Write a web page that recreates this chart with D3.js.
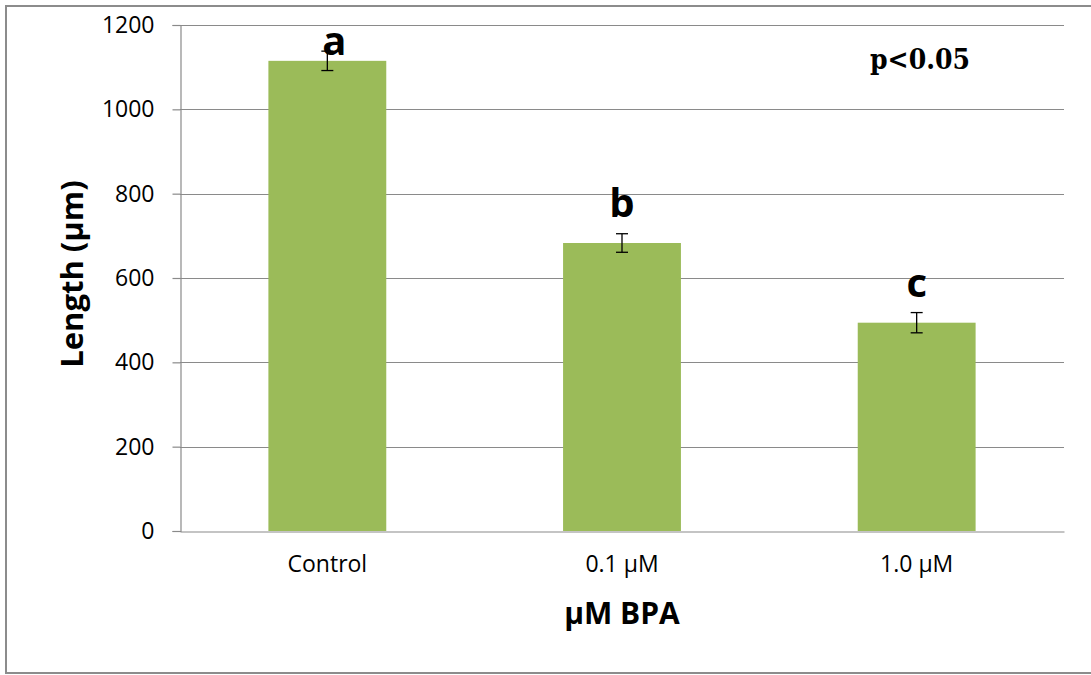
<!DOCTYPE html>
<html>
<head>
<meta charset="utf-8">
<script src="https://cdn.jsdelivr.net/npm/d3@7"></script>
<style>
  html, body { margin: 0; padding: 0; background: #fff; }
  svg { display: block; }
</style>
</head>
<body>
<svg id="chart" width="1091" height="675"></svg>
<script>
// Root length under increasing BPA concentration
const categories = ["Control", "0.1 µM", "1.0 µM"];
const lengths = [1115, 683, 494];
const errors = [23, 22, 24];
const groupLetters = ["a", "b", "c"];
const letterLevels = [1129, 745, 555];
const yTicks = [0, 200, 400, 600, 800, 1000, 1200];

const svg = d3.select("#chart");
const W = 1091, H = 675;
const plot = { left: 180, right: 1064, top: 25, bottom: 531 };

// outer frame (right edge runs past the canvas)
svg.append("rect")
  .attr("x", 6).attr("y", 6)
  .attr("width", W + 10).attr("height", 667)
  .attr("fill", "#fff")
  .attr("stroke", "#8c8c8c").attr("stroke-width", 2);

const x = d3.scaleBand().domain(categories).range([plot.left, plot.right]).padding(0);
const y = d3.scaleLinear().domain([0, 1200]).range([plot.bottom, plot.top]);
const barW = x.bandwidth() * 0.4;

// horizontal gridlines
svg.append("g").selectAll("line").data(yTicks.filter(d => d > 0)).join("line")
  .attr("x1", plot.left).attr("x2", plot.right)
  .attr("y1", d => Math.round(y(d)) + 0.5).attr("y2", d => Math.round(y(d)) + 0.5)
  .attr("stroke", "#8a8a8a").attr("stroke-width", 1.2);

// bars
svg.append("g").selectAll("rect").data(categories).join("rect")
  .attr("x", d => x(d) + (x.bandwidth() - barW) / 2)
  .attr("width", barW)
  .attr("y", (d, i) => y(lengths[i]))
  .attr("height", (d, i) => y(0) - y(lengths[i]))
  .attr("fill", "#9bbb59");

// error bars
const eb = svg.append("g").attr("stroke", "#000").attr("stroke-width", 1.3);
categories.forEach((c, i) => {
  const cx = x(c) + x.bandwidth() / 2;
  const y1 = y(lengths[i] + errors[i]), y2 = y(lengths[i] - errors[i]);
  eb.append("line").attr("x1", cx).attr("x2", cx).attr("y1", y1).attr("y2", y2);
  eb.append("line").attr("x1", cx - 6).attr("x2", cx + 6).attr("y1", y1).attr("y2", y1);
  eb.append("line").attr("x1", cx - 6).attr("x2", cx + 6).attr("y1", y2).attr("y2", y2);
});

// y axis
const yAxis = svg.append("g")
  .attr("transform", `translate(${plot.left + 0.5},0)`)
  .call(d3.axisLeft(y).tickValues(yTicks).tickSize(8).tickPadding(18).tickFormat(d3.format("d")));
yAxis.select(".domain").attr("stroke", "#8a8a8a").attr("stroke-width", 1.2);
yAxis.selectAll(".tick line").attr("stroke", "#8a8a8a").attr("stroke-width", 1.2);
yAxis.selectAll("text")
  .attr("font-family", "'Open Sans', sans-serif").attr("font-size", 23)
  .attr("fill", "#000");

// x axis
const xAxis = svg.append("g")
  .attr("transform", `translate(0,${plot.bottom + 0.5})`)
  .call(d3.axisBottom(x).tickSize(0).tickPadding(24));
xAxis.select(".domain").attr("stroke", "#8a8a8a").attr("stroke-width", 1.2);
xAxis.selectAll("text")
  .attr("font-family", "'Open Sans', sans-serif").attr("font-size", 23)
  .attr("fill", "#000");

// significance letters
svg.append("g").selectAll("text").data(groupLetters).join("text")
  .attr("x", (d, i) => x(categories[i]) + x.bandwidth() / 2 + (i === 0 ? 7 : 0))
  .attr("y", (d, i) => y(letterLevels[i]))
  .attr("text-anchor", "middle")
  .attr("font-family", "'Open Sans', sans-serif")
  .attr("font-weight", "bold").attr("font-size", 40)
  .attr("fill", "#000")
  .text(d => d);

// p-value note
svg.append("text")
  .attr("x", 870).attr("y", 69)
  .attr("font-family", "'DejaVu Serif', serif")
  .attr("font-weight", "bold").attr("font-size", 27)
  .attr("textLength", 100).attr("lengthAdjust", "spacingAndGlyphs")
  .attr("fill", "#000")
  .text("p<0.05");

// axis titles
svg.append("text")
  .attr("x", (plot.left + plot.right) / 2).attr("y", 624)
  .attr("text-anchor", "middle")
  .attr("font-family", "'Open Sans', sans-serif")
  .attr("font-weight", "bold").attr("font-size", 30)
  .attr("fill", "#000")
  .text("µM BPA");

svg.append("text")
  .attr("transform", "translate(83,274) rotate(-90)")
  .attr("text-anchor", "middle")
  .attr("font-family", "'Open Sans', sans-serif")
  .attr("font-weight", "bold").attr("font-size", 31)
  .attr("fill", "#000")
  .text("Length (µm)");
</script>
</body>
</html>
